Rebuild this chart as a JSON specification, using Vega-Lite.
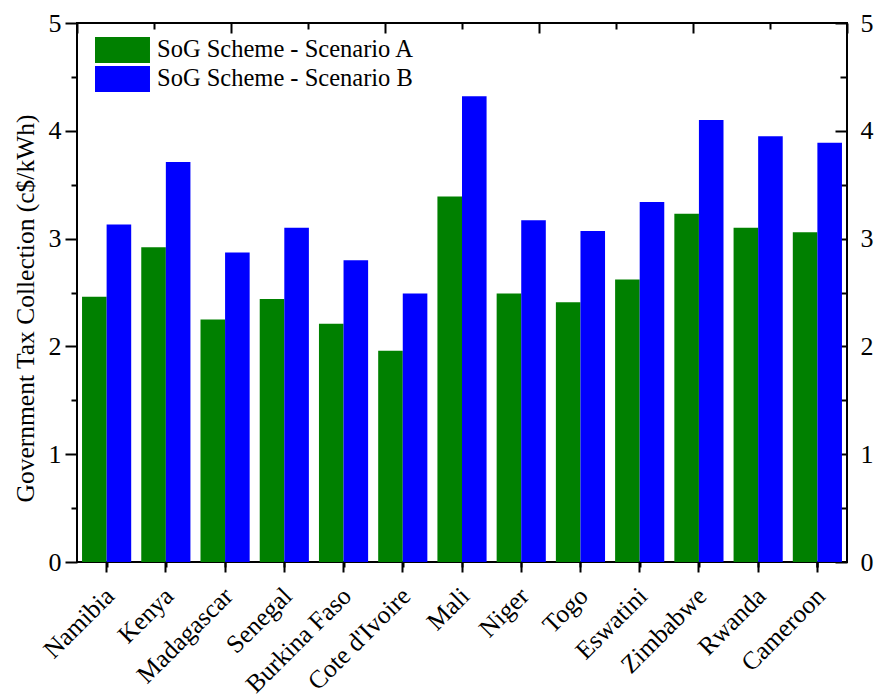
{
  "$schema": "https://vega.github.io/schema/vega-lite/v6.json",
  "autosize": {"type": "none"},
  "width": 770,
  "height": 539,
  "padding": {"left": 77, "top": 23, "right": 27, "bottom": 132},
  "background": "white",
  "config": {
    "view": {"stroke": "black", "strokeWidth": 2},
    "font": "Liberation Serif",
    "axis": {
      "grid": false,
      "domain": false,
      "tickColor": "black",
      "tickWidth": 2,
      "labelColor": "black",
      "titleColor": "black",
      "labelFont": "Liberation Serif",
      "titleFont": "Liberation Serif",
      "titleFontWeight": "normal"
    },
    "legend": {
      "orient": "none",
      "legendX": 32.5,
      "legendY": 14,
      "padding": 0,
      "title": null,
      "labelFont": "Liberation Serif",
      "labelFontSize": 24.5,
      "labelColor": "black",
      "labelLimit": 0,
      "labelOffset": 21.5,
      "rowPadding": 3,
      "symbolType": "M-2.115,-1H2.115V1H-2.115Z",
      "symbolSize": 676,
      "symbolStrokeWidth": 0,
      "symbolOpacity": 1
    }
  },
  "datasets": {
    "tax": [
      {"country": "Namibia", "scenario": "SoG Scheme - Scenario A", "value": 2.46},
      {"country": "Namibia", "scenario": "SoG Scheme - Scenario B", "value": 3.13},
      {"country": "Kenya", "scenario": "SoG Scheme - Scenario A", "value": 2.92},
      {"country": "Kenya", "scenario": "SoG Scheme - Scenario B", "value": 3.71},
      {"country": "Madagascar", "scenario": "SoG Scheme - Scenario A", "value": 2.25},
      {"country": "Madagascar", "scenario": "SoG Scheme - Scenario B", "value": 2.87},
      {"country": "Senegal", "scenario": "SoG Scheme - Scenario A", "value": 2.44},
      {"country": "Senegal", "scenario": "SoG Scheme - Scenario B", "value": 3.10},
      {"country": "Burkina Faso", "scenario": "SoG Scheme - Scenario A", "value": 2.21},
      {"country": "Burkina Faso", "scenario": "SoG Scheme - Scenario B", "value": 2.80},
      {"country": "Cote d'Ivoire", "scenario": "SoG Scheme - Scenario A", "value": 1.96},
      {"country": "Cote d'Ivoire", "scenario": "SoG Scheme - Scenario B", "value": 2.49},
      {"country": "Mali", "scenario": "SoG Scheme - Scenario A", "value": 3.39},
      {"country": "Mali", "scenario": "SoG Scheme - Scenario B", "value": 4.32},
      {"country": "Niger", "scenario": "SoG Scheme - Scenario A", "value": 2.49},
      {"country": "Niger", "scenario": "SoG Scheme - Scenario B", "value": 3.17},
      {"country": "Togo", "scenario": "SoG Scheme - Scenario A", "value": 2.41},
      {"country": "Togo", "scenario": "SoG Scheme - Scenario B", "value": 3.07},
      {"country": "Eswatini", "scenario": "SoG Scheme - Scenario A", "value": 2.62},
      {"country": "Eswatini", "scenario": "SoG Scheme - Scenario B", "value": 3.34},
      {"country": "Zimbabwe", "scenario": "SoG Scheme - Scenario A", "value": 3.23},
      {"country": "Zimbabwe", "scenario": "SoG Scheme - Scenario B", "value": 4.10},
      {"country": "Rwanda", "scenario": "SoG Scheme - Scenario A", "value": 3.10},
      {"country": "Rwanda", "scenario": "SoG Scheme - Scenario B", "value": 3.95},
      {"country": "Cameroon", "scenario": "SoG Scheme - Scenario A", "value": 3.06},
      {"country": "Cameroon", "scenario": "SoG Scheme - Scenario B", "value": 3.89}
    ],
    "frame": [
      {"t": 0, "v": 0},
      {"t": 10, "v": 5}
    ]
  },
  "resolve": {
    "scale": {"x": "independent"},
    "axis": {"x": "independent", "y": "independent"}
  },
  "layer": [
    {
      "data": {"name": "tax"},
      "mark": {"type": "bar"},
      "encoding": {
        "x": {
          "field": "country",
          "type": "nominal",
          "sort": null,
          "scale": {"paddingInner": 0.17, "paddingOuter": 0.085},
          "axis": {
            "orient": "bottom",
            "title": null,
            "tickSize": 10,
            "labelAngle": -45,
            "labelFontSize": 25.5,
            "labelPadding": 11,
            "labelOffset": -5
          }
        },
        "xOffset": {"field": "scenario", "type": "nominal"},
        "y": {
          "field": "value",
          "type": "quantitative",
          "scale": {"domain": [0, 5], "nice": false},
          "axis": {
            "orient": "left",
            "values": [0, 1, 2, 3, 4, 5],
            "format": "d",
            "tickSize": 12,
            "labelFontSize": 26,
            "labelPadding": 4,
            "title": "Government Tax Collection (c$/kWh)",
            "titleFontSize": 25.5,
            "titleX": -44,
            "titleY": 285,
            "titleBaseline": "alphabetic"
          }
        },
        "color": {
          "field": "scenario",
          "type": "nominal",
          "scale": {"range": ["#008000", "#0000ff"]}
        }
      }
    },
    {
      "data": {"name": "tax"},
      "mark": {"type": "point", "opacity": 0},
      "encoding": {
        "x": {
          "field": "country",
          "type": "nominal",
          "sort": null,
          "scale": {"paddingInner": 0.17, "paddingOuter": 0.085},
          "axis": {
            "orient": "bottom",
            "title": null,
            "labels": false,
            "tickSize": 5,
            "bandPosition": -0.1024
          }
        },
        "y": {
          "field": "value",
          "type": "quantitative",
          "axis": {
            "orient": "left",
            "values": [0.5, 1.5, 2.5, 3.5, 4.5],
            "labels": false,
            "tickSize": 6,
            "title": null
          }
        }
      }
    },
    {
      "data": {"name": "frame"},
      "mark": {"type": "point", "opacity": 0},
      "encoding": {
        "x": {
          "field": "t",
          "type": "quantitative",
          "scale": {"domain": [0, 10], "nice": false},
          "axis": {
            "orient": "top",
            "values": [0, 2, 4, 6, 8, 10],
            "labels": false,
            "tickSize": 10,
            "offset": -10,
            "title": null
          }
        },
        "y": {
          "field": "v",
          "type": "quantitative",
          "axis": {
            "orient": "right",
            "values": [0, 1, 2, 3, 4, 5],
            "format": "d",
            "ticks": false,
            "labelFontSize": 26,
            "labelPadding": 13,
            "title": null
          }
        }
      }
    },
    {
      "data": {"name": "frame"},
      "mark": {"type": "point", "opacity": 0},
      "encoding": {
        "x": {
          "field": "t",
          "type": "quantitative",
          "scale": {"domain": [0, 10], "nice": false},
          "axis": {
            "orient": "top",
            "values": [1, 3, 5, 7, 9],
            "labels": false,
            "tickSize": 6,
            "offset": -6,
            "title": null
          }
        },
        "y": {
          "field": "v",
          "type": "quantitative",
          "axis": {
            "orient": "right",
            "values": [0, 1, 2, 3, 4, 5],
            "labels": false,
            "tickSize": 12,
            "offset": -12,
            "title": null
          }
        }
      }
    },
    {
      "data": {"name": "tax"},
      "mark": {"type": "point", "opacity": 0},
      "encoding": {
        "x": {
          "field": "country",
          "type": "nominal",
          "sort": null,
          "scale": {"paddingInner": 0.17, "paddingOuter": 0.085},
          "axis": {
            "orient": "bottom",
            "title": null,
            "labels": false,
            "values": ["Cameroon"],
            "tickSize": 5,
            "bandPosition": 1.1024
          }
        },
        "y": {
          "field": "value",
          "type": "quantitative",
          "axis": {
            "orient": "right",
            "values": [0.5, 1.5, 2.5, 3.5, 4.5],
            "labels": false,
            "tickSize": 7,
            "offset": -7,
            "title": null
          }
        }
      }
    }
  ]
}
